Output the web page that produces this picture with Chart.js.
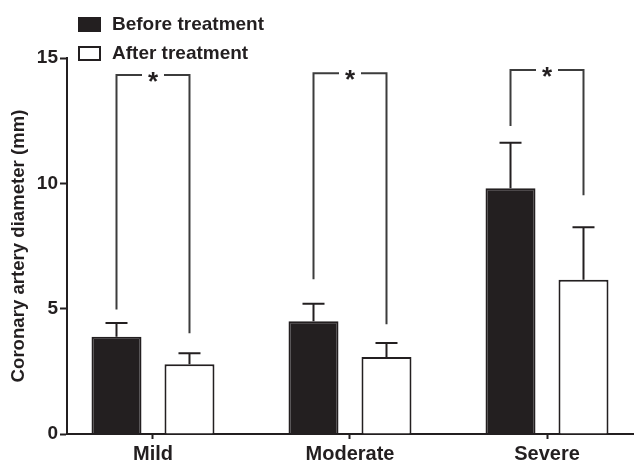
<!DOCTYPE html>
<html><head><meta charset="utf-8">
<script src="https://cdn.jsdelivr.net/npm/chart.js@4.4.1/dist/chart.umd.min.js"></script>
<style>html,body{margin:0;padding:0;background:#fff;overflow:hidden}</style>
</head><body><canvas id="c" width="634" height="464"></canvas>
<script>
const categories = ['Mild', 'Moderate', 'Severe'];
const seriesNames = ['Before treatment', 'After treatment'];
const beforeValues = [3.88, 4.50, 9.80];
const afterValues = [2.78, 3.07, 6.15];
const beforeErrors = [0.55, 0.70, 1.82];
const afterErrors = [0.44, 0.56, 2.10];
const yTicks = [0, 5, 10, 15];
const bracketTop = [14.32, 14.39, 14.52];
const bracketLeftEnd = [4.97, 6.17, 12.29];
const bracketRightEnd = [4.02, 4.38, 9.52];
const bracketMarks = ['*', '*', '*'];

const ink = '#231f20';
const FONT = "'Liberation Sans', Arial, Helvetica, sans-serif";

const overlay = {
  id: 'overlay',
  afterDatasetsDraw(chart) {
    const ctx = chart.ctx, y = chart.scales.y;
    ctx.save();
    ctx.strokeStyle = ink; ctx.lineWidth = 2; ctx.lineCap = 'butt';
    chart.data.datasets.forEach((ds, di) => {
      const meta = chart.getDatasetMeta(di);
      meta.data.forEach((bar, i) => {
        const v = ds.data[i].y, e = ds.errors[i];
        const yTop = y.getPixelForValue(v), yE = y.getPixelForValue(v + e);
        ctx.beginPath();
        ctx.moveTo(bar.x, yTop); ctx.lineTo(bar.x, yE);
        ctx.moveTo(bar.x - 11, yE); ctx.lineTo(bar.x + 11, yE);
        ctx.stroke();
      });
    });
    const m0 = chart.getDatasetMeta(0), m1 = chart.getDatasetMeta(1);
    ctx.strokeStyle = '#3c3c3c';
    ctx.fillStyle = ink;
    ctx.font = 'bold 26px ' + FONT;
    ctx.textAlign = 'center'; ctx.textBaseline = 'alphabetic';
    categories.forEach((c, i) => {
      const xl = m0.data[i].x, xr = m1.data[i].x;
      const yt = y.getPixelForValue(bracketTop[i]);
      const yl = y.getPixelForValue(bracketLeftEnd[i]);
      const yr = y.getPixelForValue(bracketRightEnd[i]);
      const xm = (xl + xr) / 2, gap = 11;
      ctx.beginPath();
      ctx.moveTo(xl, yl); ctx.lineTo(xl, yt); ctx.lineTo(xm - gap, yt);
      ctx.moveTo(xm + gap, yt); ctx.lineTo(xr, yt); ctx.lineTo(xr, yr);
      ctx.stroke();
      ctx.fillText(bracketMarks[i], xm, yt + 15);
    });
    ctx.restore();
  }
};

const legendBox = {
  id: 'legendBox',
  afterDraw(chart) {
    const ctx = chart.ctx;
    ctx.save();
    chart.data.datasets.forEach((ds, i) => {
      const top = 17 + i * 29;
      ctx.fillStyle = ds.backgroundColor; ctx.fillRect(78, top, 23, 15);
      ctx.strokeStyle = ds.borderColor; ctx.lineWidth = 2; ctx.strokeRect(79, top + 1, 21, 13);
      ctx.fillStyle = ink; ctx.font = 'bold 19px ' + FONT;
      ctx.textBaseline = 'middle'; ctx.textAlign = 'left';
      ctx.fillText(ds.label, 112, top + 8);
    });
    ctx.restore();
  }
};

new Chart(document.getElementById('c'), {
  type: 'bar',
  data: {
    datasets: [
      { label: seriesNames[0], data: beforeValues.map((v, i) => ({ x: i, y: v })), errors: beforeErrors,
        backgroundColor: ink, borderColor: ink, borderWidth: 2, borderSkipped: 'start' },
      { label: seriesNames[1], data: afterValues.map((v, i) => ({ x: i, y: v })), errors: afterErrors,
        backgroundColor: '#ffffff', borderColor: ink, borderWidth: 2, borderSkipped: 'start' }
    ]
  },
  options: {
    responsive: false,
    animation: false,
    devicePixelRatio: 1,
    categoryPercentage: 0.741,
    barPercentage: 0.685,
    layout: { padding: { top: 58, right: 0, bottom: 0, left: 0 } },
    plugins: { legend: { display: false }, tooltip: { enabled: false } },
    scales: {
      x: {
        type: 'linear', min: -0.4365, max: 2.4416, z: 1, offset: false,
        afterBuildTicks: s => { s.ticks = categories.map((c, i) => ({ value: i })); },
        afterFit: s => { s.height = 30; },
        ticks: { callback: v => categories[v], autoSkip: false, maxRotation: 0, padding: 3,
                 color: ink, font: { family: FONT, size: 20, weight: 'bold' } },
        grid: { display: true, offset: false, drawOnChartArea: false, drawTicks: true, tickLength: 5, tickColor: ink, tickWidth: 2, color: ink },
        border: { display: true, color: ink, width: 2 }
      },
      y: {
        min: 0, max: 15, z: 1,
        afterBuildTicks: s => { s.ticks = yTicks.map(v => ({ value: v })); },
        afterFit: s => { s.width = 67; },
        ticks: { padding: 2, color: ink, font: { family: FONT, size: 19, weight: 'bold' } },
        grid: { display: true, drawOnChartArea: false, drawTicks: true, tickLength: 7, tickColor: ink, tickWidth: 2, color: ink },
        border: { display: true, color: ink, width: 2 },
        title: { display: true, text: 'Coronary artery diameter (mm)', color: ink,
                 font: { family: FONT, size: 18.6, weight: 'bold' }, padding: { top: 8, bottom: 0 } }
      }
    }
  },
  plugins: [overlay, legendBox]
});
</script>
</body></html>
